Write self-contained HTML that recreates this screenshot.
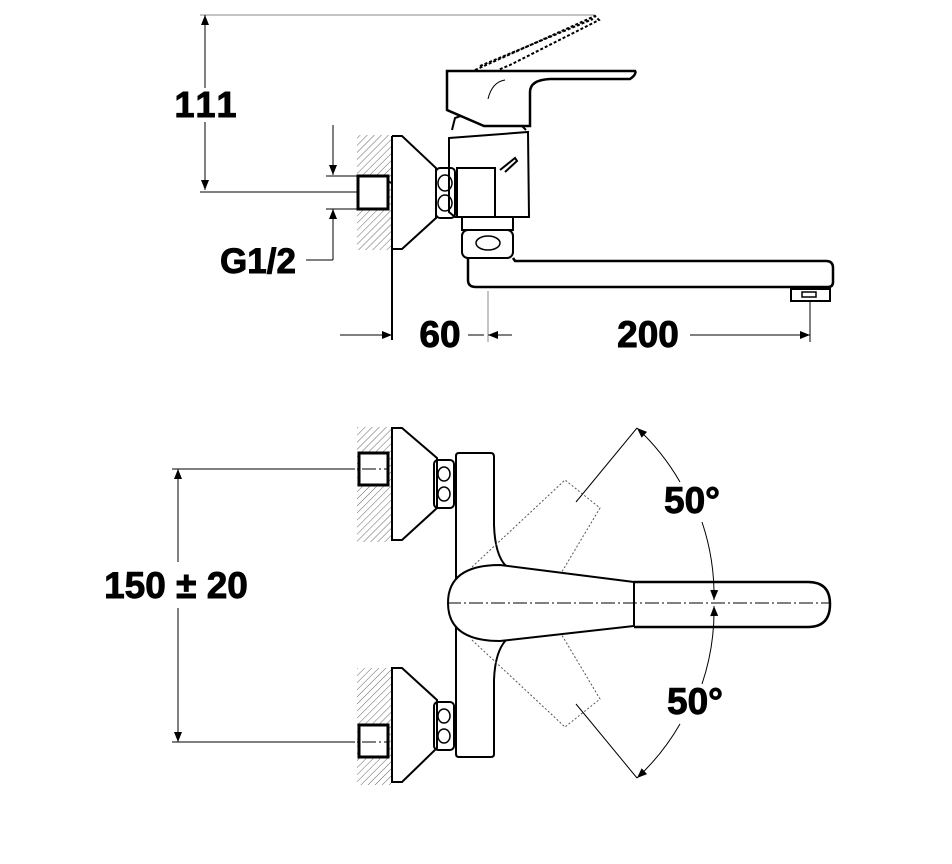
<!DOCTYPE html>
<html><head><meta charset="utf-8"><style>
html,body{margin:0;padding:0;background:#fff;width:952px;height:864px;overflow:hidden}
text{font-family:"Liberation Sans",Arial,sans-serif;font-weight:bold;fill:#000;stroke:#000;stroke-width:0.9}
</style></head><body>
<svg width="952" height="864" viewBox="0 0 952 864" xmlns="http://www.w3.org/2000/svg">
<defs>
<pattern id="h" width="5" height="5" patternUnits="userSpaceOnUse" patternTransform="rotate(45)">
<line x1="0" y1="0" x2="0" y2="5" stroke="#666" stroke-width="1"/>
</pattern>
<marker id="a" viewBox="0 0 10 10" refX="10" refY="5" markerWidth="18" markerHeight="10" markerUnits="userSpaceOnUse" orient="auto-start-reverse">
<path d="M0,1 L10,5 L0,9 z" fill="#000"/>
</marker>
</defs>
<g fill="none" stroke="#000">
<!-- ===== TOP VIEW ===== -->
<line x1="200" y1="15" x2="595" y2="15" stroke="#888" stroke-width="1"/>
<line x1="205" y1="15" x2="205" y2="88" stroke-width="1" marker-start="url(#a)"/>
<line x1="205" y1="122" x2="205" y2="190" stroke-width="1" marker-end="url(#a)"/>
<line x1="200" y1="192" x2="385" y2="192" stroke-width="1"/>
<line x1="333" y1="125" x2="333" y2="175" stroke-width="1" marker-end="url(#a)"/>
<line x1="333" y1="209" x2="333" y2="260" stroke-width="1" marker-start="url(#a)"/>
<line x1="306" y1="260" x2="333" y2="260" stroke-width="1"/>
<line x1="326" y1="176" x2="358" y2="176" stroke-width="1"/>
<line x1="326" y1="209" x2="358" y2="209" stroke-width="1"/>
<rect x="357" y="135" width="34" height="115" fill="url(#h)" stroke="none"/>
<rect x="358" y="176" width="30" height="33" fill="#fff" stroke-width="3"/>
<line x1="388" y1="180" x2="392" y2="184" stroke-width="1.5"/>
<line x1="392" y1="136" x2="392" y2="340" stroke-width="2"/>
<path d="M392,136 L402,136 L436,168 L436,218 L402,249 L392,249" stroke-width="2"/>
<rect x="436" y="168" width="19" height="50" rx="4" stroke-width="2"/>
<ellipse cx="445" cy="183" rx="7" ry="8" stroke-width="1.5"/>
<ellipse cx="445" cy="203" rx="7" ry="8" stroke-width="1.5"/>
<path d="M449,138 L528,132 L529,217 L455,217 L449,212 z" stroke-width="2"/>
<path d="M452,130 L455,118 L466,114 L522,126 L526,130" stroke-width="2"/>
<rect x="457" y="168" width="38" height="49" stroke-width="2"/>
<path d="M500,170 L515,158 L517,161 L505,172" stroke-width="2"/>
<path d="M447,71 L635,71 Q637,74 630,79 L550,79 Q530,80 530,92 L530,126 L484,126 L447,110 z" stroke-width="2.5" fill="#fff"/>
<path d="M488,99 Q492,82 505,80" stroke-width="1"/>
<path d="M475,70 L595,16 L599,20 L510,65 L498,70" stroke-width="2" stroke-dasharray="3,2"/>
<path d="M480,66 L593,19" stroke-width="2" stroke-dasharray="3,2"/>
<rect x="462" y="217" width="51" height="13" stroke-width="2"/>
<rect x="462" y="230" width="51" height="28" rx="6" stroke-width="2"/>
<ellipse cx="488" cy="243" rx="12" ry="7" stroke-width="1.5"/>
<path d="M468,258 L468,280 Q468,287 476,287 L828,287 Q833,287 833,282 L833,268 Q833,261 826,261 L515,261 L513,258" stroke-width="2.5"/>
<rect x="791" y="289" width="39" height="12" stroke-width="2"/>
<rect x="802" y="292" width="14" height="5" stroke-width="1.5"/>
<line x1="488" y1="291" x2="488" y2="342" stroke="#888" stroke-width="1"/>
<line x1="810" y1="301" x2="810" y2="342" stroke-width="1"/>
<line x1="340" y1="335" x2="392" y2="335" stroke-width="1" marker-end="url(#a)"/>
<line x1="468" y1="335" x2="484" y2="335" stroke-width="1"/>
<line x1="488" y1="335" x2="512" y2="335" stroke-width="1" marker-start="url(#a)"/>
<line x1="690" y1="335" x2="810" y2="335" stroke-width="1" marker-end="url(#a)"/>

<!-- ===== BOTTOM VIEW ===== -->
<line x1="172" y1="469" x2="355" y2="469" stroke-width="1"/>
<line x1="172" y1="742" x2="355" y2="742" stroke-width="1"/>
<line x1="178" y1="469" x2="178" y2="562" stroke-width="1" marker-start="url(#a)"/>
<line x1="178" y1="608" x2="178" y2="742" stroke-width="1" marker-end="url(#a)"/>
<rect x="357" y="427" width="34" height="115" fill="url(#h)" stroke="none"/>
<rect x="357" y="668" width="34" height="117" fill="url(#h)" stroke="none"/>
<rect x="359" y="453" width="29" height="32" fill="#fff" stroke-width="3"/>
<rect x="359" y="725" width="29" height="32" fill="#fff" stroke-width="3"/>
<path d="M392,428 L402,428 L437,458 L437,508 L402,540 L392,540 z" stroke-width="2" fill="#fff"/>
<path d="M392,668 L402,668 L437,700 L437,748 L402,782 L392,782 z" stroke-width="2" fill="#fff"/>
<rect x="434" y="460" width="20" height="48" rx="4" stroke-width="2"/>
<ellipse cx="444" cy="474" rx="6" ry="7" stroke-width="1.5"/><ellipse cx="444" cy="494" rx="6" ry="7" stroke-width="1.5"/>
<rect x="434" y="702" width="20" height="48" rx="4" stroke-width="2"/>
<ellipse cx="444" cy="716" rx="6" ry="7" stroke-width="1.5"/><ellipse cx="444" cy="736" rx="6" ry="7" stroke-width="1.5"/>
<path d="M459,453 L491,453 Q494,453 494,457 L494,525 Q495,555 506,566 M506,640 Q495,652 494,680 L494,754 Q494,757 491,757 L459,757 Q456,757 456,754 L456,456 Q456,453 459,453" stroke-width="2"/>
<g stroke="#555" stroke-width="1" stroke-dasharray="2,2">
<path d="M472,567 L565,480 L600,508 L560,575"/>
<path d="M472,640 L565,727 L600,699 L560,632"/>
</g>
<path d="M634,582 L500,565 Q448,565 448,603 Q448,641 500,641 L634,626 z" stroke-width="2" fill="#fff"/>
<path d="M634,582 L808,582 Q830,582 830,604 Q830,627 808,627 L634,627" stroke-width="2.5"/>
<line x1="447" y1="603" x2="830" y2="603" stroke-width="1" stroke-dasharray="14,3,2,3"/>
<line x1="340" y1="469" x2="388" y2="469" stroke-width="1" stroke-dasharray="14,3,2,3"/>
<line x1="340" y1="742" x2="388" y2="742" stroke-width="1" stroke-dasharray="14,3,2,3"/>
<line x1="576" y1="502" x2="637" y2="428" stroke-width="1"/>
<line x1="576" y1="704" x2="637" y2="778" stroke-width="1"/>
<path d="M637,428 A230,230 0 0 1 680,482" stroke-width="1" marker-start="url(#a)"/>
<path d="M702,522 A230,230 0 0 1 714,600" stroke-width="1" marker-end="url(#a)"/>
<path d="M714,606 A230,230 0 0 1 702,684" stroke-width="1" marker-start="url(#a)"/>
<path d="M680,724 A230,230 0 0 1 637,778" stroke-width="1" marker-end="url(#a)"/>
</g>
<text x="207" y="117" font-size="36" text-anchor="middle" letter-spacing="3">111</text>
<text x="258" y="273" font-size="35" text-anchor="middle">G1/2</text>
<text x="440" y="347" font-size="37" text-anchor="middle">60</text>
<text x="648" y="347" font-size="37" text-anchor="middle">200</text>
<text x="176" y="598" font-size="37" text-anchor="middle">150 ± 20</text>
<text x="692" y="513" font-size="37" text-anchor="middle">50°</text>
<text x="695" y="714" font-size="37" text-anchor="middle">50°</text>
</svg>
</body></html>
